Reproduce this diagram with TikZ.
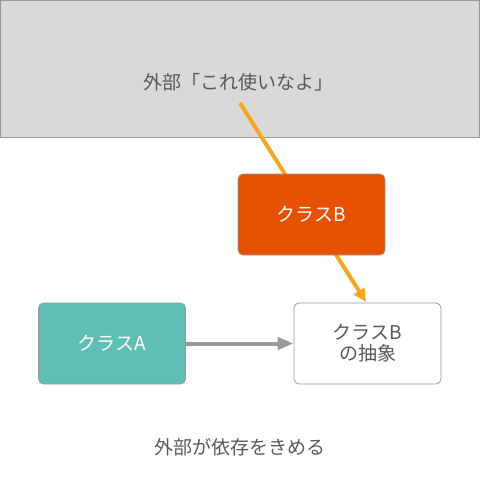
\documentclass[tikz,border=0pt]{standalone}
\usepackage{fontspec}
\setmainfont{Noto Sans CJK JP}
\usepackage{tikz}
\usetikzlibrary{arrows.meta}

\definecolor{bggray}{HTML}{D9D9D9}
\definecolor{edgegray}{HTML}{999999}
\definecolor{textgray}{HTML}{595959}
\definecolor{classborange}{HTML}{E65100}
\definecolor{classateal}{HTML}{5FBFB4}
\definecolor{arroworange}{HTML}{F5A623}

\begin{document}
\begin{tikzpicture}[x=1pt, y=-1pt,
    box/.style={draw=edgegray, line width=0.8pt, rounded corners=5pt,
        minimum width=147pt, minimum height=81pt,
        font=\fontsize{19}{21}\selectfont},
    label text/.style={text=textgray, font=\fontsize{19}{21}\selectfont},
    orange arrow/.style={arroworange, line width=4pt,
        -{Triangle[length=13pt, width=12pt]}},
    gray arrow/.style={edgegray, line width=4pt,
        -{Triangle[length=16pt, width=12pt]}}]
    \useasboundingbox (0,0) rectangle (480,490);
    \draw[edgegray, fill=bggray] (0.5,0.5) rectangle (479.5,137.5);
    \node[label text] (ext) at (238,82) {外部「これ使いなよ」};
    \coordinate (from) at (240,103);
    \coordinate (to) at (366,302);
    \draw[orange arrow] (from) -- (to);
    \node[box, fill=classborange, text=white] (clsB) at (311.5,214.5) {クラスB};
    \node[box, fill=classateal, text=white] (clsA) at (112,343.5) {クラスA};
    \node[box, fill=white, text=textgray, align=center] (absB) at (367.5,343.5) {クラスB\\の抽象};
    \draw[gray arrow] (clsA) -- (absB);
    \node[label text] (note) at (240,447) {外部が依存をきめる};
\end{tikzpicture}
\end{document}
